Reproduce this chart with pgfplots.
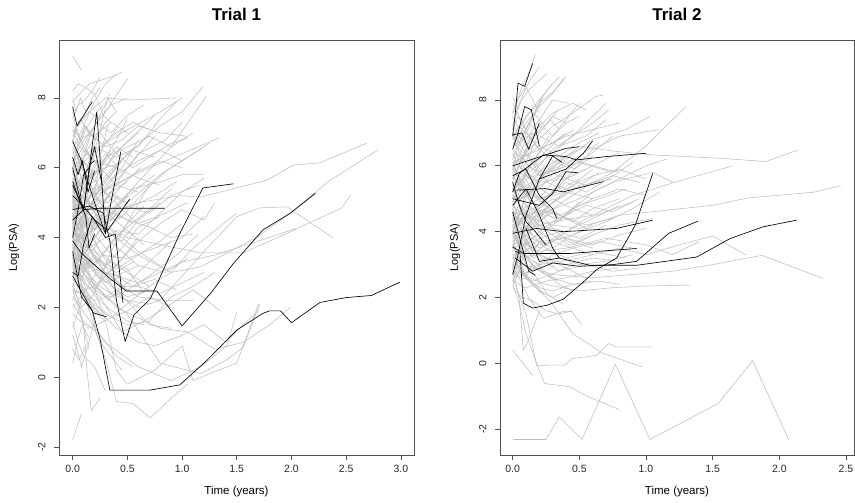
\documentclass[border=0pt]{standalone}
\usepackage{fontspec}
\setmainfont{Liberation Sans}
\usepackage{pgfplots}
\pgfplotsset{compat=1.18}
\definecolor{rgray}{RGB}{190,190,190}
\definecolor{boxc}{RGB}{80,80,80}
\pgfplotsset{
 G/.style={rgray, line width=0.55pt, line join=round, mark=none},
 K/.style={black, line width=0.65pt, line join=round, mark=none},
 trial/.style={scale only axis, width=355pt, height=415pt,
  axis line style={boxc, line width=0.7pt},
  tick pos=left, tick align=outside, major tick length=5pt,
  tick style={boxc, line width=0.7pt},
  enlargelimits=false,
  ymin=-2.23, ymax=9.66, ytick={-2,0,2,4,6,8}, yticklabels={-2,0,2,4,6,8},
  yticklabel style={rotate=90, anchor=south, yshift=5pt, font=\fontsize{10.5}{12}\selectfont, text=black!85},
  xticklabel style={font=\fontsize{10.5}{12}\selectfont, text=black!85, yshift=-2pt},
  /pgf/number format/assume math mode=true,
  xlabel={Time (years)}, ylabel={Log(PSA)},
  xlabel style={font=\fontsize{11.5}{13}\selectfont, at={(0.5,0)}, anchor=center, yshift=-37pt},
  ylabel style={font=\fontsize{11}{13}\selectfont, at={(0,0.5)}, anchor=center, yshift=45pt},
  title style={font=\bfseries\fontsize{17}{20}\selectfont, at={(0.5,1)}, anchor=center, yshift=20pt},
 }
}
\begin{document}
\begin{tikzpicture}
\path[use as bounding box] (0,0) rectangle (855pt,503pt);
\begin{axis}[trial, at={(59pt,48pt)}, anchor=south west, title={Trial 1},
  xmin=-0.125, xmax=3.12, xtick={0,0.5,1,1.5,2,2.5,3}, xticklabels={0.0,0.5,1.0,1.5,2.0,2.5,3.0}]
% grey trajectories
\addplot[G] coordinates {(0,9.2)(0.08,8.8)};
\addplot[G] coordinates {(0,-1.8)(0.08,-1.05)};
\addplot[G] coordinates {(0,8.2)(0.05,8.4)(0.12,8.3)(0.2,8.1)(0.28,7.5)(0.35,7.3)};
\addplot[G] coordinates {(0,7.9)(0.06,8.1)(0.15,8.4)(0.25,8.5)(0.35,8.6)(0.45,8.74)};
\addplot[G] coordinates {(0,6.5)(0.1,7.2)(0.2,7.9)(0.3,8.4)(0.4,8.69)};
\addplot[G] coordinates {(0,7.0)(0.15,7.6)(0.3,8.0)(0.52,7.94)(0.95,8.0)};
\addplot[G] coordinates {(0,5.8)(0.2,6.5)(0.45,7.0)(0.8,7.6)(1.0,8.0)};
\addplot[G] coordinates {(0,4.5)(0.25,5.5)(0.5,6.4)(0.8,7.2)(1.0,7.6)(1.19,8.32)};
\addplot[G] coordinates {(0,3.8)(0.3,4.5)(0.6,5.6)(0.9,6.6)(1.22,8.04)};
\addplot[G] coordinates {(0,5.0)(0.3,5.4)(0.7,6.0)(1.0,6.4)(1.34,6.86)};
\addplot[G] coordinates {(0,4.6)(0.2,4.4)(0.5,5.0)(0.8,5.8)(1.1,6.4)(1.25,6.7)};
\addplot[G] coordinates {(0,6.2)(0.1,6.8)(0.3,7.6)(0.5,8.55)};
\addplot[G] coordinates {(0,7.4)(0.05,7.8)(0.1,7.9)(0.18,8.2)(0.25,8.6)};
\addplot[G] coordinates {(0,3.2)(0.1,3.8)(0.3,5.1)(0.5,6.0)(0.75,6.9)};
\addplot[G] coordinates {(0,2.6)(0.08,2.0)(0.2,2.4)(0.35,3.6)(0.55,4.7)(0.7,5.5)};
\addplot[G] coordinates {(0,2.1)(0.1,1.6)(0.25,1.2)(0.4,0.6)(0.55,0.3)};
\addplot[G] coordinates {(0,1.6)(0.05,1.0)(0.1,0.6)(0.2,0.3)(0.3,-0.4)};
\addplot[G] coordinates {(0,0.8)(0.06,0.5)(0.12,0.9)};
\addplot[G] coordinates {(0,2.5)(0.1,1.5)(0.13,0.2)(0.17,-0.95)(0.25,-0.6)};
\addplot[G] coordinates {(0,3.4)(0.1,2.5)(0.2,1.4)(0.3,0.5)(0.4,-0.7)(0.55,-0.75)(0.71,-1.17)(0.9,-0.6)(1.05,-0.2)};
\addplot[G] coordinates {(0,4.0)(0.15,3.0)(0.3,1.6)(0.4,0.2)(0.5,-0.2)(0.75,0.2)(1.0,0.9)(1.1,-0.1)(1.25,0.1)(1.5,0.4)(1.7,2.1)};
\addplot[G] coordinates {(0,3.0)(0.2,2.0)(0.4,1.4)(0.6,1.0)(0.75,0.9)(1.0,1.2)(1.2,1.5)(1.4,1.0)(1.56,1.5)(1.7,1.9)};
\addplot[G] coordinates {(0,2.8)(0.15,2.2)(0.3,1.8)(0.5,1.5)(0.7,1.6)(0.9,2.3)(1.1,2.6)(1.3,3.0)};
\addplot[G] coordinates {(0,4.3)(0.2,3.5)(0.4,2.4)(0.6,2.0)(0.8,2.2)(1.0,2.9)(1.2,3.6)(1.5,4.6)(1.71,4.85)(1.96,4.88)(2.38,3.99)};
\addplot[G] coordinates {(0,4.9)(0.3,4.2)(0.6,3.5)(0.9,3.0)(1.17,3.16)(1.69,4.02)(1.99,4.7)(2.33,5.59)(2.79,6.51)};
\addplot[G] coordinates {(0,4.2)(0.3,4.6)(0.6,5.0)(0.98,5.2)(1.17,5.16)(1.78,5.65)(2.02,6.08)(2.26,6.14)(2.69,6.71)};
\addplot[G] coordinates {(0,3.6)(0.3,3.0)(0.6,2.7)(1.0,3.3)(1.3,3.5)(1.7,3.9)(2.08,4.3)(2.46,4.85)(2.54,5.22)};
\addplot[G] coordinates {(0,5.3)(0.2,4.5)(0.5,4.0)(0.8,3.8)(1.17,3.56)(1.56,3.56)(2.05,4.25)};
\addplot[G] coordinates {(0,3.7)(0.2,2.6)(0.5,1.8)(0.8,0.4)(1.17,0.1)(1.41,0.5)(1.56,0.86)(1.71,2.1)};
\addplot[G] coordinates {(0,2.3)(0.3,1.0)(0.6,0.3)(0.9,-0.1)(1.17,0.3)(1.41,0.9)(1.5,1.87)};
\addplot[G] coordinates {(0,3.3)(0.4,2.0)(0.8,1.4)(1.05,1.3)(1.3,0.8)(1.56,1.0)(1.8,1.5)(1.99,2.0)};
\addplot[G] coordinates {(0,5.6)(0.1,6.2)(0.2,5.8)(0.35,6.5)};
\addplot[G] coordinates {(0,6.0)(0.08,5.2)(0.18,4.8)(0.3,5.5)(0.45,6.0)(0.6,6.8)};
\addplot[G] coordinates {(0,5.4)(0.12,5.9)(0.25,6.6)(0.4,7.0)(0.55,7.3)(0.7,7.1)};
\addplot[G] coordinates {(0,4.8)(0.1,5.2)(0.22,4.6)(0.35,5.3)(0.5,5.6)};
\addplot[G] coordinates {(0,4.4)(0.08,3.8)(0.2,3.2)(0.35,3.8)(0.5,4.4)(0.65,4.9)};
\addplot[G] coordinates {(0,3.9)(0.05,4.3)(0.15,4.9)(0.3,5.6)(0.45,6.2)};
\addplot[G] coordinates {(0,3.5)(0.1,3.0)(0.2,2.5)(0.3,2.9)(0.45,3.4)(0.6,4.0)};
\addplot[G] coordinates {(0,4.7)(0.06,4.0)(0.12,3.3)(0.25,2.8)(0.4,2.2)};
\addplot[G] coordinates {(0,5.1)(0.1,4.4)(0.25,3.6)(0.4,2.9)(0.55,2.6)(0.75,2.8)(0.95,2.5)};
\addplot[G] coordinates {(0,6.6)(0.1,6.0)(0.2,5.2)(0.35,4.6)(0.5,4.2)(0.65,3.8)};
\addplot[G] coordinates {(0,7.2)(0.1,6.6)(0.25,6.0)(0.4,5.5)(0.6,5.3)};
\addplot[G] coordinates {(0,6.9)(0.07,7.4)(0.15,7.0)(0.3,6.6)(0.45,6.8)(0.6,7.2)(0.8,7.0)(1.05,6.9)};
\addplot[G] coordinates {(0,5.9)(0.15,5.0)(0.3,4.2)(0.45,3.9)(0.6,4.5)(0.8,5.0)};
\addplot[G] coordinates {(0,4.1)(0.1,4.6)(0.2,4.2)(0.35,4.8)(0.55,5.4)(0.8,5.6)(1.0,5.8)(1.2,5.8)};
\addplot[G] coordinates {(0,3.1)(0.07,3.5)(0.18,3.9)(0.3,4.4)(0.5,4.9)(0.7,4.7)(0.9,5.2)(1.15,5.5)};
\addplot[G] coordinates {(0,2.9)(0.08,3.3)(0.2,2.7)(0.32,2.2)(0.5,2.7)(0.7,3.3)(0.9,3.9)};
\addplot[G] coordinates {(0,2.0)(0.1,2.4)(0.2,2.9)(0.35,3.3)(0.5,3.1)(0.65,2.4)};
\addplot[G] coordinates {(0,4.5)(0.05,3.7)(0.1,2.9)(0.2,2.5)(0.3,2.3)(0.45,2.6)(0.6,2.6)(0.8,2.4)(1.0,2.7)(1.2,3.0)};
\addplot[G] coordinates {(0,6.3)(0.05,5.6)(0.15,5.0)(0.3,4.8)(0.5,4.5)(0.7,4.3)(0.9,4.0)(1.1,4.1)};
\addplot[G] coordinates {(0,5.7)(0.1,5.4)(0.2,5.9)(0.3,6.3)(0.5,6.6)(0.7,6.9)(0.9,6.6)(1.1,7.0)};
\addplot[G] coordinates {(0,5.2)(0.04,5.8)(0.1,6.3)(0.2,6.9)(0.35,7.3)(0.5,7.0)};
\addplot[G] coordinates {(0,4.9)(0.06,5.5)(0.16,6.0)(0.26,7.2)(0.32,8.0)(0.4,7.6)};
\addplot[G] coordinates {(0,6.1)(0.05,6.6)(0.12,7.1)(0.2,7.5)(0.28,7.8)};
\addplot[G] coordinates {(0,3.3)(0.05,2.7)(0.12,2.3)(0.2,1.9)(0.3,1.6)};
\addplot[G] coordinates {(0,3.8)(0.04,3.2)(0.1,2.7)(0.16,2.2)(0.22,1.2)(0.3,0.8)(0.45,0.2)};
\addplot[G] coordinates {(0,2.7)(0.05,2.2)(0.1,1.4)(0.15,0.8)};
\addplot[G] coordinates {(0,5.5)(0.15,5.8)(0.3,5.3)(0.45,4.8)(0.6,4.4)(0.85,4.7)(1.05,5.0)};
\addplot[G] coordinates {(0,4.0)(0.08,4.6)(0.18,5.0)(0.28,5.7)(0.4,6.1)};
\addplot[G] coordinates {(0,3.6)(0.08,4.2)(0.2,4.8)(0.32,5.4)(0.45,5.8)(0.6,6.4)(0.85,6.8)(1.0,7.3)};
\addplot[G] coordinates {(0,4.3)(0.1,3.6)(0.25,3.0)(0.4,2.5)(0.55,2.0)(0.7,1.5)(0.9,1.4)};
\addplot[G] coordinates {(0,4.6)(0.1,4.1)(0.2,3.4)(0.3,3.0)(0.45,2.6)(0.6,2.3)(0.85,2.2)(1.1,2.2)};
\addplot[G] coordinates {(0,5.0)(0.05,4.5)(0.15,3.9)(0.25,3.4)(0.35,2.9)(0.5,2.5)};
\addplot[G] coordinates {(0,3.5)(0.05,3.9)(0.1,4.4)(0.2,5.2)(0.25,6.3)(0.32,7.2)};
\addplot[G] coordinates {(0,4.8)(0.08,5.4)(0.2,5.6)(0.3,6.3)(0.4,6.8)(0.5,7.4)};
\addplot[G] coordinates {(0,5.6)(0.08,4.9)(0.15,4.3)(0.25,3.6)(0.35,3.3)(0.5,3.0)(0.7,2.6)};
\addplot[G] coordinates {(0,1.2)(0.04,0.8)(0.08,0.3)(0.14,0.9)(0.2,1.6)};
\addplot[G] coordinates {(0,6.8)(0.06,6.2)(0.15,5.6)(0.25,5.0)(0.35,4.7)};
\addplot[G] coordinates {(0,7.6)(0.04,7.0)(0.1,6.6)(0.18,6.2)};
\addplot[G] coordinates {(0,5.4)(0.07,4.8)(0.14,4.4)(0.22,4.0)(0.3,3.7)(0.4,3.4)};
\addplot[G] coordinates {(0,4.1)(0.05,3.5)(0.1,3.1)(0.16,2.9)(0.25,2.6)(0.35,2.4)(0.5,2.2)(0.7,2.1)};
\addplot[G] coordinates {(0,3.9)(0.1,3.4)(0.2,3.7)(0.3,4.3)(0.45,4.0)(0.6,3.6)(0.8,3.2)};
\addplot[G] coordinates {(0,6.4)(0.1,6.9)(0.25,7.0)(0.4,6.4)(0.55,6.0)(0.7,6.3)(0.9,6.7)(1.05,6.85)};
\addplot[G] coordinates {(0,2.4)(0.2,2.6)(0.4,3.2)(0.6,3.9)(0.8,4.4)(1.0,4.8)(1.2,4.5)(1.3,5.0)};
\addplot[G] coordinates {(0,1.8)(0.15,1.4)(0.35,1.7)(0.5,2.1)(0.7,2.6)(0.9,3.0)(1.1,3.7)(1.3,4.2)(1.5,4.7)};
\addplot[G] coordinates {(0,3.0)(0.25,2.3)(0.45,1.3)(0.65,1.6)(0.85,2.0)(1.1,2.5)(1.35,1.9)};
\addplot[G] coordinates {(0,4.4)(0.05,5.0)(0.1,5.6)(0.15,6.2)(0.22,6.9)};
\addplot[G] coordinates {(0,5.9)(0.04,5.4)(0.08,4.9)(0.14,4.5)(0.2,4.3)};
\addplot[G] coordinates {(0,6.7)(0.05,7.3)(0.15,7.6)(0.25,7.4)(0.35,7.8)(0.5,8.0)};
\addplot[G] coordinates {(0,3.7)(0.05,4.1)(0.12,3.7)(0.2,4.2)(0.3,4.8)(0.42,5.2)};
\addplot[G] coordinates {(0,4.2)(0.03,3.4)(0.07,2.8)(0.1,2.4)(0.15,1.9)};
\addplot[G] coordinates {(0,5.0)(0.03,5.6)(0.06,4.7)(0.1,4.1)(0.14,3.6)};
\addplot[G] coordinates {(0,6.0)(0.03,6.5)(0.07,5.9)(0.11,6.4)(0.16,6.9)};
\addplot[G] coordinates {(0,4.6)(0.03,4.0)(0.06,4.5)(0.1,3.9)(0.14,4.4)};
\addplot[G] coordinates {(0,3.4)(0.03,3.8)(0.06,3.3)(0.1,3.6)(0.15,3.1)};
\addplot[G] coordinates {(0,5.5)(0.03,5.0)(0.06,5.4)(0.1,4.9)(0.14,5.3)};
\addplot[G] coordinates {(0,5.3)(0.05,5.9)(0.12,5.5)(0.2,6.1)(0.3,6.7)(0.4,7.1)};
\addplot[G] coordinates {(0,4.2)(0.04,4.7)(0.1,5.3)(0.18,5.8)(0.3,6.0)(0.45,6.6)(0.6,7.0)};
\addplot[G] coordinates {(0,3.8)(0.05,3.3)(0.12,3.6)(0.22,4.1)(0.35,4.6)(0.5,5.2)};
\addplot[G] coordinates {(0,4.7)(0.05,4.2)(0.12,4.6)(0.2,5.1)(0.32,5.0)(0.45,5.5)(0.62,6.0)};
\addplot[G] coordinates {(0,6.5)(0.05,6.0)(0.1,5.5)(0.2,5.2)(0.3,5.6)(0.45,6.2)};
\addplot[G] coordinates {(0,5.8)(0.06,6.4)(0.14,6.9)(0.22,7.3)(0.35,7.0)(0.5,7.5)(0.65,7.8)};
\addplot[G] coordinates {(0,3.2)(0.05,2.8)(0.1,3.2)(0.2,3.5)(0.3,3.2)(0.45,3.7)(0.6,4.3)(0.8,4.6)};
\addplot[G] coordinates {(0,2.6)(0.05,3.0)(0.12,3.4)(0.22,3.0)(0.35,2.6)(0.5,2.3)(0.7,2.5)};
\addplot[G] coordinates {(0,4.9)(0.04,4.4)(0.1,3.9)(0.18,3.5)(0.28,3.2)(0.4,3.0)(0.55,3.3)};
\addplot[G] coordinates {(0,5.1)(0.06,5.6)(0.12,5.2)(0.2,4.8)(0.3,4.5)(0.4,4.9)(0.55,5.3)(0.75,5.8)};
\addplot[G] coordinates {(0,4.4)(0.05,4.0)(0.1,4.5)(0.16,4.1)(0.24,4.6)(0.34,4.3)(0.48,4.7)};
\addplot[G] coordinates {(0,3.6)(0.04,4.1)(0.09,3.7)(0.15,4.3)(0.24,4.8)(0.34,5.3)(0.5,5.0)};
\addplot[G] coordinates {(0,6.2)(0.04,5.8)(0.1,6.2)(0.18,5.7)(0.28,6.1)(0.4,6.6)(0.55,6.3)};
\addplot[G] coordinates {(0,7.1)(0.05,6.7)(0.12,7.2)(0.2,6.8)(0.3,7.3)(0.4,7.6)};
\addplot[G] coordinates {(0,2.2)(0.06,2.7)(0.14,2.4)(0.24,2.0)(0.36,1.7)(0.5,1.9)(0.7,2.3)(0.9,2.0)};
\addplot[G] coordinates {(0,3.4)(0.06,3.0)(0.14,2.6)(0.24,2.2)(0.36,1.9)(0.5,1.6)(0.65,1.5)};
\addplot[G] coordinates {(0,5.4)(0.04,5.9)(0.1,6.5)(0.17,7.0)(0.25,7.5)(0.34,8.1)};
\addplot[G] coordinates {(0,4.0)(0.06,3.5)(0.14,3.1)(0.24,3.4)(0.36,3.9)(0.5,4.3)(0.7,4.8)(0.9,5.4)};
\addplot[G] coordinates {(0,4.6)(0.05,5.1)(0.1,4.7)(0.17,5.3)(0.26,5.8)(0.38,6.4)(0.55,6.9)(0.75,7.5)};
\addplot[G] coordinates {(0,3.0)(0.05,3.5)(0.1,4.0)(0.18,4.5)(0.28,4.2)(0.4,4.7)(0.55,4.4)};
\addplot[G] coordinates {(0,5.7)(0.04,5.2)(0.08,4.8)(0.14,5.1)(0.22,5.5)(0.32,5.2)};
\addplot[G] coordinates {(0,4.3)(0.04,4.8)(0.08,4.3)(0.13,4.8)(0.2,4.4)(0.3,4.0)(0.45,3.6)(0.6,3.2)};
\addplot[G] coordinates {(0,3.9)(0.04,4.4)(0.08,4.0)(0.13,4.6)(0.2,4.2)(0.3,4.9)};
\addplot[G] coordinates {(0,6.0)(0.04,6.4)(0.08,6.0)(0.13,5.6)(0.2,6.0)(0.3,6.4)(0.42,6.0)};
\addplot[G] coordinates {(0,2.8)(0.04,3.2)(0.08,2.8)(0.13,3.3)(0.2,3.0)(0.3,2.7)(0.45,2.9)};
\addplot[G] coordinates {(0,5.2)(0.03,4.7)(0.07,5.1)(0.11,4.6)(0.16,5.0)(0.22,4.6)};
\addplot[G] coordinates {(0,4.5)(0.03,4.1)(0.07,3.7)(0.11,4.1)(0.16,3.6)(0.22,3.3)};
\addplot[G] coordinates {(0,3.5)(0.03,3.1)(0.07,3.5)(0.11,3.0)(0.16,3.4)(0.22,2.9)};
\addplot[G] coordinates {(0,6.8)(0.03,7.2)(0.07,6.8)(0.11,7.2)(0.16,6.9)};
\addplot[G] coordinates {(0,8.0)(0.03,7.6)(0.07,8.0)(0.12,7.6)(0.18,8.0)(0.25,8.3)};
\addplot[G] coordinates {(0,1.4)(0.05,1.9)(0.1,2.4)(0.16,2.1)(0.25,1.8)};
\addplot[G] coordinates {(0,0.4)(0.04,1.0)(0.09,1.5)(0.15,1.1)};
\addplot[G] coordinates {(0,4.5)(0.2,5.0)(0.4,5.8)(0.6,6.2)(0.8,6.5)(1.0,6.2)(1.2,6.6)};
\addplot[G] coordinates {(0,5.0)(0.25,4.4)(0.45,4.6)(0.65,5.3)(0.85,5.9)(1.05,6.3)};
\addplot[G] coordinates {(0,3.3)(0.2,3.8)(0.4,4.2)(0.6,4.1)(0.8,4.7)(1.0,5.3)(1.2,5.7)};
\addplot[G] coordinates {(0,6.0)(0.2,6.6)(0.4,6.3)(0.6,6.6)(0.8,7.4)(0.95,7.9)};
\addplot[G] coordinates {(0,3.0)(0.2,3.4)(0.4,3.1)(0.6,3.5)(0.8,3.9)(1.0,4.4)};
\addplot[G] coordinates {(0,4.0)(0.25,3.5)(0.5,3.4)(0.75,3.7)(1.0,4.0)(1.2,4.6)};
\addplot[G] coordinates {(0,5.6)(0.2,5.2)(0.4,5.5)(0.6,5.9)(0.8,6.2)(1.0,6.0)};
\addplot[G] coordinates {(0,2.5)(0.2,2.2)(0.45,2.4)(0.7,2.9)(0.95,3.5)(1.15,4.1)};
\addplot[G] coordinates {(0,3.7)(0.2,3.1)(0.4,2.9)(0.6,3.2)(0.85,3.0)(1.05,3.4)};
\addplot[G] coordinates {(0,6.8)(0.2,6.2)(0.4,6.0)(0.6,5.7)(0.8,5.5)};
\addplot[G] coordinates {(0,4.3)(0.15,4.8)(0.35,5.2)(0.55,4.9)(0.75,5.2)(0.95,5.6)};
\addplot[G] coordinates {(0,5.3)(0.2,5.9)(0.4,6.1)(0.55,6.5)(0.75,6.3)};
% black trajectories
\addplot[K] coordinates {(0,3.6)(0.08,2.3)(0.18,1.9)(0.25,1.1)(0.34,-0.37)(0.71,-0.37)(0.98,-0.22)(1.23,0.49)(1.5,1.35)(1.74,1.83)(1.8,1.9)(1.9,1.9)(2.0,1.56)(2.26,2.14)(2.5,2.28)(2.73,2.34)(2.99,2.72)};
\addplot[K] coordinates {(0,2.9)(0.07,2.5)(0.19,1.84)(0.31,1.73)};
\addplot[K] coordinates {(0,4.8)(0.15,4.9)(0.28,4.7)(0.34,3.9)(0.4,2.2)(0.48,1.02)(0.56,1.78)(0.71,2.25)(0.98,4.12)(1.19,5.42)(1.47,5.54)};
\addplot[K] coordinates {(0,3.9)(0.08,3.55)(0.35,2.8)(0.49,2.47)(0.77,2.47)(1.0,1.47)(1.26,2.4)(1.47,3.26)(1.74,4.22)(1.99,4.7)(2.22,5.27)};
\addplot[K] coordinates {(0,5.5)(0.1,4.8)(0.25,4.84)(0.84,4.84)};
\addplot[K] coordinates {(0,7.75)(0.04,7.2)(0.1,7.5)(0.18,7.9)};
\addplot[K] coordinates {(0,6.75)(0.08,6.2)(0.15,5.5)(0.2,5.0)(0.3,4.1)};
\addplot[K] coordinates {(0,4.5)(0.1,4.8)(0.22,7.6)(0.3,4.1)(0.35,5.0)(0.44,6.46)};
\addplot[K] coordinates {(0,3.0)(0.05,2.9)(0.1,3.8)(0.18,4.6)(0.3,4.0)(0.39,4.1)(0.46,2.13)};
\addplot[K] coordinates {(0,5.2)(0.1,4.9)(0.2,4.5)(0.32,4.2)(0.52,5.1)};
\addplot[K] coordinates {(0,6.0)(0.06,5.2)(0.1,4.8)(0.16,6.1)(0.2,6.2)};
\addplot[K] coordinates {(0,4.0)(0.05,4.8)(0.1,5.8)(0.15,6.0)(0.2,6.6)(0.27,5.5)};
\addplot[K] coordinates {(0,5.6)(0.07,5.0)(0.12,4.6)(0.15,3.7)(0.2,4.1)};
\addplot[K] coordinates {(0,6.3)(0.05,5.8)(0.09,6.2)(0.14,5.3)(0.2,5.9)};
\end{axis}
\begin{axis}[trial, at={(500pt,48pt)}, anchor=south west, width=354pt, title={Trial 2},
  ymin=-2.78, ymax=9.82,
  xmin=-0.095, xmax=2.56, xtick={0,0.5,1,1.5,2,2.5}, xticklabels={0.0,0.5,1.0,1.5,2.0,2.5}]
\addplot[G] coordinates {(0.005,-2.31)(0.25,-2.31)(0.35,-1.62)(0.52,-2.31)(0.77,-0.03)(1.03,-2.31)(1.54,-1.22)(1.8,0.08)(2.07,-2.31)};
\addplot[G] coordinates {(0,0.4)(0.15,-0.36)};
\addplot[G] coordinates {(0,2.4)(0.05,1.8)(0.1,0.9)(0.19,-0.1)(0.24,-0.61)(0.43,-0.71)(0.56,-1.0)(0.8,-1.4)};
\addplot[G] coordinates {(0,2.6)(0.1,1.5)(0.18,-0.06)(0.33,-0.05)(0.39,-0.05)(0.45,0.15)(0.55,0.2)(0.63,0.25)(0.72,0.6)(0.78,0.5)(1.04,0.5)};
\addplot[G] coordinates {(0,3.2)(0.15,2.4)(0.3,1.8)(0.38,1.31)(0.45,0.91)(0.68,0.3)(0.97,-0.1)};
\addplot[G] coordinates {(0,2.9)(0.05,1.92)(0.08,0.4)(0.13,0.8)(0.2,1.6)};
\addplot[G] coordinates {(0,3.0)(0.12,2.0)(0.23,1.37)(0.38,1.58)(0.44,1.58)(0.52,1.18)};
\addplot[G] coordinates {(0,5.2)(0.2,5.6)(0.5,6.6)(0.75,6.45)(1.05,6.33)(1.55,6.23)(1.9,6.13)(2.14,6.48)};
\addplot[G] coordinates {(0,4.6)(0.3,4.2)(0.5,4.1)(0.8,4.5)(1.15,4.65)(1.5,4.8)(1.76,5.02)(2.26,5.2)(2.46,5.4)};
\addplot[G] coordinates {(0,4.0)(0.3,4.3)(0.6,4.5)(0.9,5.1)(1.23,5.52)(1.65,6.0)};
\addplot[G] coordinates {(0,5.5)(0.25,5.8)(0.5,6.1)(0.75,5.8)(1.0,6.6)(1.3,7.8)};
\addplot[G] coordinates {(0,3.5)(0.2,3.0)(0.5,3.2)(0.8,3.5)(1.0,3.3)(1.25,3.6)(1.5,3.87)(1.75,3.29)};
\addplot[G] coordinates {(0,3.1)(0.3,2.7)(0.6,2.6)(0.9,2.7)(1.2,2.8)(1.5,3.0)(1.87,3.28)(2.33,2.58)};
\addplot[G] coordinates {(0,2.8)(0.25,2.4)(0.5,2.2)(0.75,2.3)(1.0,2.35)(1.33,2.38)};
\addplot[G] coordinates {(0,3.8)(0.2,3.4)(0.4,3.5)(0.7,3.8)(1.0,3.6)(1.2,3.3)(1.4,3.7)};
\addplot[G] coordinates {(0,7.6)(0.07,8.4)(0.13,8.9)(0.17,9.37)};
\addplot[G] coordinates {(0,7.2)(0.05,7.9)(0.12,8.3)(0.2,8.6)(0.26,8.8)};
\addplot[G] coordinates {(0,6.6)(0.1,7.3)(0.2,7.8)(0.3,8.2)(0.38,8.65)};
\addplot[G] coordinates {(0,6.0)(0.15,6.6)(0.3,7.2)(0.45,7.6)(0.62,8.1)(0.68,8.15)};
\addplot[G] coordinates {(0,5.3)(0.15,5.9)(0.3,6.4)(0.5,7.1)(0.7,7.9)};
\addplot[G] coordinates {(0,5.8)(0.1,6.8)(0.2,7.4)(0.3,8.0)(0.42,7.9)};
\addplot[G] coordinates {(0,4.9)(0.2,5.3)(0.4,6.2)(0.6,6.8)(0.85,7.1)(1.03,7.5)};
\addplot[G] coordinates {(0,4.4)(0.2,4.8)(0.4,5.6)(0.6,6.5)(0.8,6.9)(1.1,7.1)};
\addplot[G] coordinates {(0,4.2)(0.25,4.6)(0.5,5.0)(0.75,5.5)(1.05,5.8)(1.2,5.5)};
\addplot[G] coordinates {(0,3.6)(0.2,3.9)(0.4,4.5)(0.6,5.2)(0.8,5.6)(1.0,6.0)(1.15,6.2)};
\addplot[G] coordinates {(0,3.3)(0.2,3.6)(0.45,3.9)(0.7,4.3)(0.9,4.7)(1.1,5.2)};
\addplot[G] coordinates {(0,2.5)(0.1,2.3)(0.25,2.5)(0.4,2.6)(0.6,2.8)(0.8,2.9)};
\addplot[G] coordinates {(0,2.3)(0.07,2.0)(0.15,1.9)(0.25,1.6)(0.35,1.5)(0.45,1.6)};
\addplot[G] coordinates {(0,4.7)(0.05,5.2)(0.1,5.8)(0.18,6.3)(0.27,6.9)};
\addplot[G] coordinates {(0,5.0)(0.06,5.8)(0.12,6.3)(0.2,7.0)(0.28,7.4)(0.35,7.1)};
\addplot[G] coordinates {(0,5.6)(0.07,6.2)(0.15,6.8)(0.22,7.2)(0.3,6.9)(0.4,7.3)(0.5,7.5)};
\addplot[G] coordinates {(0,6.3)(0.08,6.8)(0.16,7.5)(0.24,8.2)(0.3,8.5)};
\addplot[G] coordinates {(0,7.6)(0.05,8.1)(0.1,8.4)(0.15,8.0)(0.2,7.6)};
\addplot[G] coordinates {(0,6.8)(0.05,7.2)(0.1,7.0)(0.18,6.6)(0.28,6.2)(0.38,6.0)};
\addplot[G] coordinates {(0,4.5)(0.05,4.0)(0.12,3.6)(0.2,3.3)(0.3,3.1)(0.4,2.9)(0.55,2.6)};
\addplot[G] coordinates {(0,3.9)(0.08,3.4)(0.15,3.0)(0.25,2.7)(0.35,2.4)(0.45,2.2)};
\addplot[G] coordinates {(0,4.1)(0.05,3.6)(0.1,3.0)(0.18,2.6)(0.26,2.1)(0.38,1.8)};
\addplot[G] coordinates {(0,5.9)(0.1,5.4)(0.2,5.0)(0.3,4.6)(0.4,4.4)(0.55,4.1)};
\addplot[G] coordinates {(0,6.1)(0.06,5.5)(0.14,5.0)(0.22,4.5)(0.32,4.0)(0.45,3.7)(0.6,3.5)};
\addplot[G] coordinates {(0,5.4)(0.1,5.8)(0.2,5.5)(0.3,5.9)(0.45,6.2)(0.6,6.0)(0.8,6.4)};
\addplot[G] coordinates {(0,4.8)(0.1,4.4)(0.2,4.7)(0.3,5.2)(0.4,5.6)(0.55,5.9)};
\addplot[G] coordinates {(0,4.3)(0.1,4.8)(0.2,4.4)(0.3,4.9)(0.45,5.3)(0.6,5.5)(0.75,5.6)};
\addplot[G] coordinates {(0,3.7)(0.1,4.1)(0.2,4.6)(0.35,5.0)(0.5,5.4)(0.65,5.8)};
\addplot[G] coordinates {(0,3.4)(0.1,3.9)(0.2,4.3)(0.3,4.6)(0.45,4.3)(0.6,4.7)(0.8,5.0)};
\addplot[G] coordinates {(0,2.9)(0.1,3.4)(0.2,3.8)(0.35,4.0)(0.5,3.8)(0.7,4.2)};
\addplot[G] coordinates {(0,3.0)(0.08,2.7)(0.18,2.9)(0.3,3.3)(0.45,3.5)(0.65,3.7)(0.9,3.5)};
\addplot[G] coordinates {(0,6.5)(0.1,6.1)(0.2,5.7)(0.35,5.9)(0.5,6.3)(0.65,6.7)};
\addplot[G] coordinates {(0,7.0)(0.08,6.5)(0.16,6.0)(0.26,5.5)(0.36,5.3)(0.5,5.6)};
\addplot[G] coordinates {(0,7.9)(0.06,7.4)(0.12,6.9)(0.2,6.5)(0.3,6.7)(0.4,7.0)};
\addplot[G] coordinates {(0,5.7)(0.12,5.2)(0.24,4.8)(0.36,4.5)(0.5,4.8)(0.65,5.0)(0.85,5.3)};
\addplot[G] coordinates {(0,5.1)(0.1,4.6)(0.2,4.2)(0.3,3.9)(0.42,3.6)(0.6,3.9)(0.8,4.2)(1.05,4.4)};
\addplot[G] coordinates {(0,4.6)(0.1,4.1)(0.22,3.6)(0.35,3.2)(0.5,3.0)(0.7,3.1)(0.9,3.3)};
\addplot[G] coordinates {(0,6.9)(0.1,7.5)(0.2,7.9)(0.32,8.3)(0.4,8.7)};
\addplot[G] coordinates {(0,5.5)(0.05,6.1)(0.12,6.7)(0.2,7.2)(0.3,7.6)(0.45,7.9)(0.55,7.7)};
\addplot[G] coordinates {(0,2.7)(0.05,3.2)(0.1,3.6)(0.2,4.0)(0.3,4.3)(0.45,4.6)};
\addplot[G] coordinates {(0,3.9)(0.04,4.5)(0.1,5.0)(0.18,5.5)(0.28,5.9)(0.4,6.3)(0.55,6.6)};
\addplot[G] coordinates {(0,4.9)(0.05,4.3)(0.1,3.8)(0.15,3.5)(0.22,3.2)(0.3,2.9)};
\addplot[G] coordinates {(0,3.6)(0.05,3.1)(0.1,2.7)(0.16,2.4)(0.24,2.1)};
\addplot[G] coordinates {(0,6.2)(0.05,6.7)(0.1,7.1)(0.16,7.6)(0.22,8.1)};
\addplot[G] coordinates {(0,5.3)(0.08,5.0)(0.18,5.4)(0.28,5.1)(0.4,5.5)(0.55,5.2)(0.72,5.6)(0.9,6.1)};
\addplot[G] coordinates {(0,4.0)(0.06,4.6)(0.14,4.2)(0.24,4.7)(0.36,4.4)(0.5,4.9)};
\addplot[G] coordinates {(0,3.2)(0.08,3.6)(0.16,3.2)(0.26,3.5)(0.4,3.2)(0.6,3.4)(0.85,3.2)};
\addplot[G] coordinates {(0,4.4)(0.1,3.9)(0.2,3.5)(0.3,3.7)(0.4,4.0)(0.55,4.4)(0.7,4.6)(0.9,4.9)};
\addplot[G] coordinates {(0,6.7)(0.1,6.3)(0.2,6.6)(0.35,6.3)(0.5,6.7)(0.65,7.0)};
\addplot[G] coordinates {(0,7.3)(0.06,6.8)(0.12,7.3)(0.2,7.0)(0.3,7.5)(0.4,7.3)};
\addplot[G] coordinates {(0,2.5)(0.05,2.9)(0.1,2.6)(0.2,2.3)(0.3,2.2)(0.45,2.4)(0.65,2.5)(0.8,2.4)};
\addplot[G] coordinates {(0,4.5)(0.03,5.1)(0.06,4.6)(0.1,5.2)(0.14,4.8)};
\addplot[G] coordinates {(0,3.5)(0.03,4.0)(0.06,3.6)(0.1,4.2)(0.15,3.9)};
\addplot[G] coordinates {(0,5.9)(0.03,6.4)(0.06,5.9)(0.1,6.5)(0.15,6.2)};
\addplot[G] coordinates {(0,4.2)(0.03,3.7)(0.06,4.1)(0.1,3.6)(0.14,4.0)};
\addplot[G] coordinates {(0,2.9)(0.03,3.4)(0.06,3.0)(0.1,3.5)(0.15,3.2)};
\addplot[G] coordinates {(0,5.0)(0.04,5.5)(0.1,5.1)(0.16,5.6)(0.24,6.0)(0.34,5.7)(0.46,6.1)};
\addplot[G] coordinates {(0,4.6)(0.04,4.2)(0.1,4.6)(0.16,4.2)(0.24,4.6)(0.34,4.3)(0.46,4.7)(0.6,5.0)};
\addplot[G] coordinates {(0,4.1)(0.04,4.5)(0.1,4.1)(0.16,4.6)(0.24,5.0)(0.34,5.4)(0.46,5.2)};
\addplot[G] coordinates {(0,3.7)(0.04,3.3)(0.1,3.7)(0.16,3.3)(0.24,3.6)(0.34,3.9)(0.46,3.6)(0.6,3.9)};
\addplot[G] coordinates {(0,6.4)(0.04,6.0)(0.1,6.4)(0.16,6.0)(0.24,6.4)(0.34,6.8)(0.46,7.1)};
\addplot[G] coordinates {(0,5.8)(0.04,5.4)(0.1,5.8)(0.16,5.4)(0.24,5.8)(0.34,6.2)(0.46,5.9)(0.6,6.3)};
\addplot[G] coordinates {(0,7.1)(0.04,7.5)(0.1,7.1)(0.16,7.6)(0.24,7.2)(0.34,7.7)};
\addplot[G] coordinates {(0,3.3)(0.04,2.9)(0.1,3.3)(0.16,2.9)(0.24,3.2)(0.34,2.8)(0.46,3.0)};
\addplot[G] coordinates {(0,2.6)(0.04,3.0)(0.1,2.7)(0.16,3.1)(0.24,2.8)(0.34,2.5)};
\addplot[G] coordinates {(0,4.9)(0.05,5.4)(0.12,5.9)(0.2,6.4)(0.3,6.9)(0.4,7.4)(0.5,7.9)};
\addplot[G] coordinates {(0,4.3)(0.05,4.9)(0.12,5.4)(0.2,5.0)(0.3,5.5)(0.45,6.0)(0.6,6.4)(0.75,6.9)};
\addplot[G] coordinates {(0,3.8)(0.05,4.3)(0.12,4.8)(0.2,4.5)(0.3,4.9)(0.45,5.4)(0.6,5.9)};
\addplot[G] coordinates {(0,5.3)(0.05,4.8)(0.12,4.4)(0.2,4.0)(0.3,3.7)(0.45,3.5)(0.6,3.3)};
\addplot[G] coordinates {(0,6.0)(0.05,5.5)(0.12,5.0)(0.2,4.7)(0.3,5.0)(0.45,4.7)(0.6,4.5)};
\addplot[G] coordinates {(0,6.9)(0.05,6.4)(0.12,6.0)(0.2,5.8)(0.3,6.1)(0.45,6.4)};
\addplot[G] coordinates {(0,7.5)(0.05,7.1)(0.12,7.6)(0.2,8.0)(0.28,8.4)(0.35,8.7)};
\addplot[G] coordinates {(0,3.0)(0.05,3.5)(0.12,3.2)(0.2,3.7)(0.3,3.5)(0.45,3.9)(0.6,4.2)};
\addplot[G] coordinates {(0,4.0)(0.05,3.5)(0.12,3.1)(0.2,2.8)(0.3,2.6)(0.45,2.4)(0.6,2.5)};
\addplot[G] coordinates {(0,4.7)(0.05,4.2)(0.12,4.6)(0.2,4.3)(0.3,4.7)(0.45,5.1)(0.6,5.5)(0.8,5.9)};
\addplot[G] coordinates {(0,5.6)(0.05,6.0)(0.12,5.6)(0.2,6.0)(0.3,6.5)(0.45,6.9)(0.6,7.3)(0.72,7.7)};
\addplot[G] coordinates {(0,2.4)(0.05,2.8)(0.12,2.5)(0.2,2.2)(0.3,2.0)(0.4,2.2)};
\addplot[G] coordinates {(0,3.5)(0.03,3.9)(0.06,3.4)(0.1,3.8)(0.15,3.4)(0.22,3.8)};
\addplot[G] coordinates {(0,4.4)(0.03,4.0)(0.06,4.4)(0.1,4.0)(0.15,4.4)(0.22,4.0)};
\addplot[G] coordinates {(0,5.2)(0.03,5.6)(0.06,5.2)(0.1,5.6)(0.15,5.2)(0.22,5.6)};
\addplot[G] coordinates {(0,6.2)(0.03,5.8)(0.06,6.2)(0.1,5.8)(0.15,6.2)(0.22,5.8)};
\addplot[G] coordinates {(0,7.0)(0.03,6.6)(0.06,7.0)(0.1,6.6)(0.15,7.0)};
\addplot[G] coordinates {(0,2.9)(0.03,2.6)(0.06,2.9)(0.1,2.6)(0.15,3.0)};
\addplot[G] coordinates {(0,8.1)(0.04,7.7)(0.08,8.2)(0.13,8.6)(0.2,9.0)};
\addplot[G] coordinates {(0,4.5)(0.2,5.0)(0.4,5.3)(0.6,5.7)(0.8,5.9)(1.0,5.6)};
\addplot[G] coordinates {(0,5.4)(0.2,5.0)(0.4,5.2)(0.6,5.0)(0.8,5.3)(1.0,5.1)};
\addplot[G] coordinates {(0,3.6)(0.2,4.2)(0.4,4.0)(0.6,4.4)(0.8,4.8)};
\addplot[G] coordinates {(0,6.1)(0.2,6.5)(0.4,6.9)(0.6,7.1)(0.8,7.3)};
\addplot[G] coordinates {(0,4.0)(0.2,3.7)(0.4,3.8)(0.6,3.6)(0.8,3.9)(1.0,4.1)};
\addplot[G] coordinates {(0,5.9)(0.2,5.5)(0.4,5.6)(0.6,6.0)(0.8,5.8)};
\addplot[G] coordinates {(0,3.2)(0.2,3.3)(0.4,3.0)(0.6,3.2)(0.8,3.1)};
\addplot[G] coordinates {(0,4.8)(0.15,5.3)(0.35,5.7)(0.55,5.4)(0.75,5.7)(0.95,5.5)};
\addplot[G] coordinates {(0,6.6)(0.15,7.0)(0.35,6.6)(0.55,6.9)(0.7,7.4)};
\addplot[G] coordinates {(0,2.7)(0.15,2.5)(0.35,2.8)(0.55,3.0)(0.75,2.8)(0.95,2.9)};
\addplot[G] coordinates {(0,4.2)(0.15,4.6)(0.35,4.4)(0.55,4.8)(0.75,4.6)(0.95,5.0)};
\addplot[G] coordinates {(0,5.1)(0.15,4.7)(0.35,4.5)(0.55,4.2)(0.75,4.4)};
% black trajectories
\addplot[K] coordinates {(0,6.9)(0.02,7.6)(0.04,8.51)(0.09,8.41)(0.15,9.11)};
\addplot[K] coordinates {(0,6.5)(0.04,6.99)(0.09,7.8)(0.14,7.7)(0.2,6.6)};
\addplot[K] coordinates {(0,6.94)(0.07,7.0)(0.12,6.5)(0.18,7.1)(0.2,7.3)};
\addplot[K] coordinates {(0,5.2)(0.05,5.77)(0.23,6.33)(0.4,6.28)(0.48,6.18)(0.7,6.28)(1.0,6.38)};
\addplot[K] coordinates {(0,6.0)(0.2,6.27)(0.4,6.53)(0.5,6.58)};
\addplot[K] coordinates {(0.2,5.6)(0.4,5.9)(0.53,6.38)(0.6,6.76)};
\addplot[K] coordinates {(0,5.0)(0.2,4.8)(0.3,5.16)(0.4,5.82)(0.49,5.79)};
\addplot[K] coordinates {(0.03,5.26)(0.24,5.31)(0.38,5.21)(0.68,5.52)};
\addplot[K] coordinates {(0,3.95)(0.18,4.1)(0.38,4.0)(0.78,4.1)(1.05,4.35)};
\addplot[K] coordinates {(0,3.54)(0.08,3.34)(0.43,3.34)(0.93,3.49)};
\addplot[K] coordinates {(0.02,3.2)(0.15,2.8)(0.3,3.05)(0.5,2.95)(0.75,3.0)(0.93,3.1)(1.17,3.95)(1.39,4.32)};
\addplot[K] coordinates {(0.1,4.1)(0.2,3.1)(0.35,3.2)(0.58,2.98)(0.93,2.98)(1.38,3.23)(1.63,3.79)(1.88,4.15)(2.13,4.35)};
\addplot[K] coordinates {(0.02,3.4)(0.055,3.35)(0.08,1.83)(0.15,1.68)(0.26,1.77)(0.38,1.95)(0.44,2.16)(0.53,2.47)(0.63,2.85)(0.78,3.2)(0.92,4.2)(1.05,5.77)};
\addplot[K] coordinates {(0,2.7)(0.04,3.3)(0.1,4.5)(0.2,5.6)(0.3,6.3)(0.37,6.1)};
\addplot[K] coordinates {(0,4.8)(0.1,5.3)(0.2,4.5)(0.3,3.5)(0.35,3.2)};
\addplot[K] coordinates {(0,5.5)(0.05,4.8)(0.1,4.3)(0.17,4.0)(0.25,3.6)};
\addplot[K] coordinates {(0,4.6)(0.12,2.8)(0.17,2.68)};
\addplot[K] coordinates {(0,5.7)(0.1,5.9)(0.2,5.1)(0.3,4.7)(0.33,4.4)};
\end{axis}
\end{tikzpicture}
\end{document}
